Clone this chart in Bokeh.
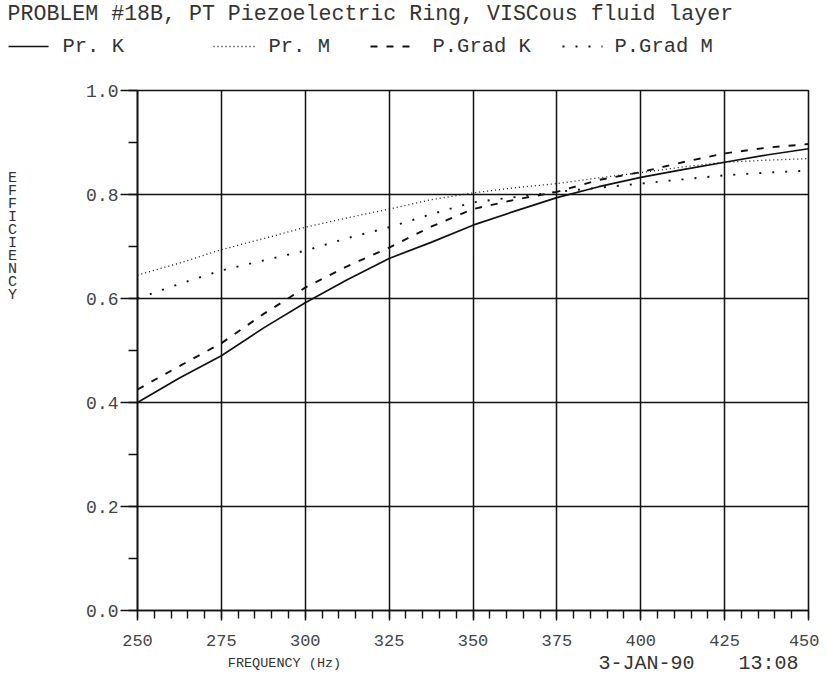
from bokeh.plotting import figure
from bokeh.models import Range1d, SingleIntervalTicker, PrintfTickFormatter
from bokeh.layouts import column, row
from bokeh.embed import file_html
from bokeh.resources import INLINE
from bokeh.core.properties import value

# ---- data ----
freq = [250, 262.5, 275, 287.5, 300, 312.5, 325, 337.5, 350,
        362.5, 375, 387.5, 400, 412.5, 425, 437.5, 450]
pr_k = [0.400, 0.447, 0.490, 0.543, 0.592, 0.636, 0.677, 0.708, 0.741,
        0.768, 0.794, 0.815, 0.833, 0.848, 0.862, 0.876, 0.888]
pr_m = [0.645, 0.668, 0.694, 0.715, 0.737, 0.755, 0.772, 0.790, 0.803,
        0.813, 0.821, 0.832, 0.842, 0.853, 0.862, 0.866, 0.869]
pgrad_k = [0.425, 0.470, 0.514, 0.570, 0.621, 0.662, 0.698, 0.738, 0.772,
           0.790, 0.805, 0.828, 0.843, 0.862, 0.879, 0.890, 0.897]
pgrad_m = [0.600, 0.628, 0.654, 0.673, 0.692, 0.716, 0.737, 0.762, 0.785,
           0.795, 0.805, 0.813, 0.821, 0.829, 0.837, 0.842, 0.846]

series_names = ["Pr. K", "Pr. M", "P.Grad K", "P.Grad M"]
title_text = "PROBLEM #18B, PT Piezoelectric Ring, VISCous fluid layer"
x_label = "FREQUENCY (Hz)"
y_label = "EFFICIENCY"
stamp_date = "3-JAN-90"
stamp_time = "13:08"

FONT = "Liberation Mono"
INK = "#111111"
TXT = "#333333"
W = 819
HEAD_H = 70
LEFT_W = 30
MAIN_H = 580
FOOT_H = 35

styles = [
    dict(line_dash="solid", line_width=1.7),
    dict(line_dash="1 3", line_width=1.3),
    dict(line_dash="7 9", line_width=1.9),
    dict(line_dash="2 11", line_width=1.9),
]


def blank(width, height):
    f = figure(width=width, height=height, x_range=Range1d(0, width), y_range=Range1d(height, 0),
               x_axis_type=None, y_axis_type=None, output_backend="svg",
               toolbar_location=None, min_border=0)
    f.outline_line_color = None
    f.grid.visible = False
    f.frame_align = False
    return f


# ---- header: title + legend ----
head = blank(W, HEAD_H)
head.text(x=[7], y=[13], text=[title_text], text_font=value(FONT), text_font_size="21.6px",
          text_color=TXT, text_baseline="middle")
sample_x = [(8, 48), (213, 255), (370, 418), (562, 602)]
label_x = [62, 268, 432, 614]
for (x0, x1), lx, name, st in zip(sample_x, label_x, series_names, styles):
    head.line(x=[x0, x1], y=[46, 46], line_color=INK, **st)
    head.text(x=[lx], y=[46], text=[name], text_font=value(FONT), text_font_size="20.5px",
              text_color=TXT, text_baseline="middle")

# ---- left strip: stacked y label ----
left = blank(LEFT_W, MAIN_H)
left.text(x=[12], y=[99], text=["\n".join(y_label)], text_font=value(FONT),
          text_font_size="15px", text_line_height=0.77, text_color=TXT,
          text_align="center", text_baseline="top")

# ---- main plot ----
p = figure(width=W - LEFT_W, height=MAIN_H, x_range=Range1d(250, 450), y_range=Range1d(0, 1),
           output_backend="svg", toolbar_location=None,
           min_border_left=137 - LEFT_W, min_border_right=11, min_border_top=20,
           min_border_bottom=40)
p.frame_align = False
p.outline_line_color = INK
p.outline_line_width = 1.6

p.xaxis.ticker = SingleIntervalTicker(interval=25, num_minor_ticks=5)
p.yaxis.ticker = SingleIntervalTicker(interval=0.2, num_minor_ticks=2)
p.xaxis.formatter = PrintfTickFormatter(format="%d")
p.yaxis.formatter = PrintfTickFormatter(format="%.1f")
for ax in (p.xaxis, p.yaxis):
    ax.axis_line_color = INK
    ax.axis_line_width = 1.6
    ax.major_tick_line_color = INK
    ax.minor_tick_line_color = INK
    ax.major_tick_line_width = 1.4
    ax.minor_tick_line_width = 1.4
    ax.major_tick_in = 0
    ax.minor_tick_in = 0
    ax.major_label_text_font = FONT
    ax.major_label_text_color = "#444444"
p.xaxis.major_tick_out = 10
p.xaxis.minor_tick_out = 8
p.xaxis.major_label_standoff = 14
p.xaxis.major_label_text_font_size = "17px"
p.yaxis.major_tick_out = 17
p.yaxis.minor_tick_out = 9
p.yaxis.major_label_standoff = 2
p.yaxis.major_label_text_font_size = "18px"

p.grid.grid_line_color = INK
p.grid.grid_line_width = 1.5
p.grid.grid_line_alpha = 1.0

for ys, st in zip([pr_k, pr_m, pgrad_k, pgrad_m], styles):
    p.line(x=freq, y=ys, line_color=INK, **st)

# ---- footer: x label + time stamp ----
foot = blank(W, FOOT_H)
foot.text(x=[284], y=[13], text=[x_label], text_font=value(FONT), text_font_size="13.5px",
          text_color=TXT, text_align="center", text_baseline="middle")
foot.text(x=[598], y=[13], text=[stamp_date], text_font=value(FONT), text_font_size="20px",
          text_color=TXT, text_align="left", text_baseline="middle")
foot.text(x=[738], y=[13], text=[stamp_time], text_font=value(FONT), text_font_size="20px",
          text_color=TXT, text_align="left", text_baseline="middle")

layout = column(head, row(left, p, spacing=0), foot, spacing=0)
open("out.html", "w").write(file_html(layout, INLINE))
